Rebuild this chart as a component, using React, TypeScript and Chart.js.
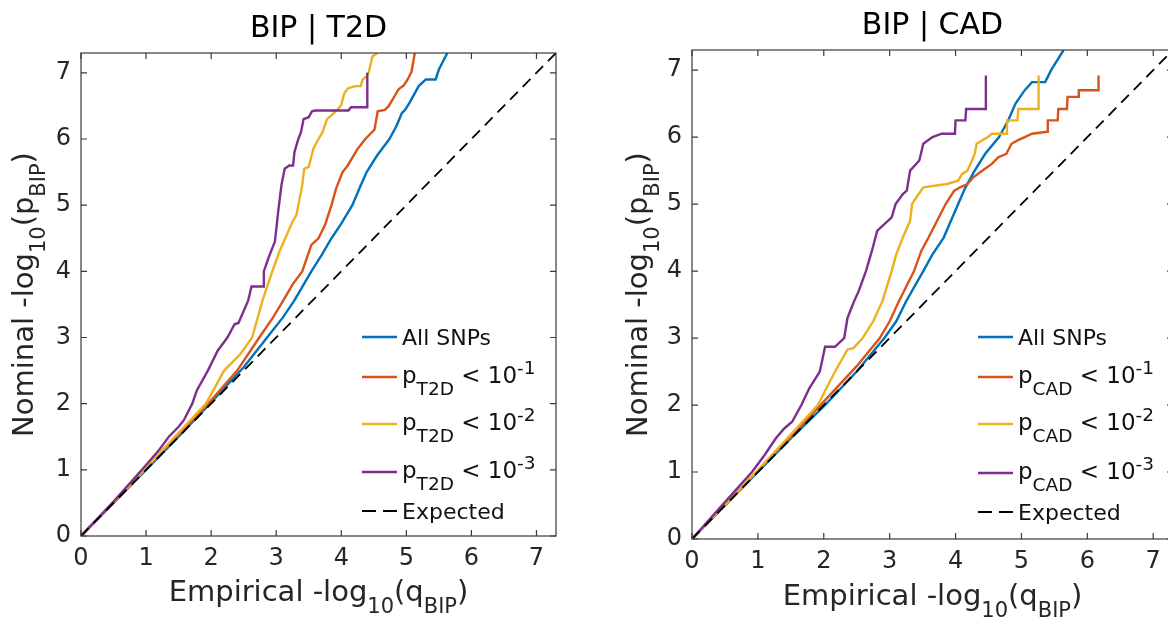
import React, { useEffect, useRef } from 'react';
import { Chart, registerables } from 'chart.js';

Chart.register(...registerables);

// ---------- data ----------
const AXIS_TICKS = [0, 1, 2, 3, 4, 5, 6, 7];
const AXIS_MAX = 7.3;
const SERIES_COLORS = ['#0072BD', '#D95319', '#EDB120', '#7E2F8E'];
const THRESHOLD_EXPONENTS = ['-1', '-2', '-3'];
const EXPECTED_X = [0, 7.3];
const EXPECTED_Y = [0, 7.3];

// BIP | T2D
const T2D_ALL_X = [0, 0.5, 1.0, 1.5, 2.0, 2.5, 2.86, 3.1, 3.28, 3.54, 3.7, 3.85, 4.0, 4.17, 4.3, 4.39, 4.55, 4.74, 4.85, 4.93, 4.98, 5.05, 5.19, 5.3, 5.45, 5.5, 5.63];
const T2D_ALL_Y = [0, 0.5, 1.0, 1.5, 2.02, 2.55, 3.0, 3.3, 3.56, 4.0, 4.25, 4.5, 4.72, 5.0, 5.3, 5.5, 5.75, 6.0, 6.2, 6.39, 6.44, 6.55, 6.8, 6.9, 6.9, 7.05, 7.3];
const T2D_P1_X = [0, 0.5, 1.0, 1.5, 2.0, 2.4, 2.74, 2.95, 3.11, 3.25, 3.4, 3.54, 3.65, 3.75, 3.85, 3.92, 4.02, 4.1, 4.25, 4.37, 4.51, 4.56, 4.67, 4.73, 4.82, 4.88, 4.96, 5.02, 5.08, 5.13];
const T2D_P1_Y = [0, 0.5, 1.02, 1.53, 2.05, 2.5, 3.0, 3.3, 3.56, 3.8, 4.0, 4.4, 4.5, 4.7, 5.0, 5.25, 5.5, 5.6, 5.85, 6.0, 6.14, 6.42, 6.44, 6.5, 6.65, 6.75, 6.81, 6.9, 7.02, 7.3];
const T2D_P2_X = [0, 0.5, 1.0, 1.5, 1.92, 2.2, 2.45, 2.63, 2.79, 2.94, 3.05, 3.14, 3.25, 3.31, 3.34, 3.4, 3.43, 3.5, 3.57, 3.65, 3.71, 3.78, 3.84, 3.95, 4.0, 4.05, 4.11, 4.22, 4.3, 4.33, 4.39, 4.42, 4.48, 4.56];
const T2D_P2_Y = [0, 0.51, 1.03, 1.56, 2.0, 2.5, 2.75, 3.0, 3.56, 4.0, 4.3, 4.5, 4.75, 4.85, 5.0, 5.3, 5.55, 5.58, 5.85, 6.0, 6.1, 6.3, 6.35, 6.45, 6.52, 6.7, 6.77, 6.8, 6.8, 6.9, 6.95, 7.0, 7.25, 7.3];
const T2D_P3_X = [0, 0.5, 0.98, 1.2, 1.35, 1.5, 1.58, 1.71, 1.78, 1.95, 2.1, 2.25, 2.36, 2.42, 2.5, 2.57, 2.62, 2.8, 2.81, 2.88, 2.94, 2.98, 3.03, 3.08, 3.13, 3.2, 3.26, 3.28, 3.34, 3.38, 3.42, 3.5, 3.55, 3.6, 4.11, 4.15, 4.4, 4.4];
const T2D_P3_Y = [0, 0.52, 1.05, 1.3, 1.5, 1.65, 1.75, 2.0, 2.2, 2.5, 2.8, 3.0, 3.2, 3.22, 3.4, 3.56, 3.77, 3.77, 4.0, 4.2, 4.35, 4.45, 4.9, 5.3, 5.55, 5.6, 5.6, 5.8, 6.0, 6.1, 6.3, 6.33, 6.42, 6.43, 6.43, 6.48, 6.48, 7.0];

// BIP | CAD
const CAD_ALL_X = [0, 0.5, 1.0, 1.5, 2.0, 2.5, 2.92, 3.1, 3.25, 3.51, 3.65, 3.82, 3.93, 4.04, 4.15, 4.29, 4.45, 4.66, 4.8, 4.91, 5.05, 5.16, 5.36, 5.45, 5.64];
const CAD_ALL_Y = [0, 0.5, 1.0, 1.5, 1.98, 2.5, 3.0, 3.25, 3.55, 4.0, 4.25, 4.5, 4.75, 5.0, 5.25, 5.5, 5.75, 6.0, 6.25, 6.5, 6.7, 6.82, 6.82, 7.0, 7.3];
const CAD_P1_X = [0, 0.5, 1.0, 1.5, 2.0, 2.5, 2.85, 3.0, 3.14, 3.37, 3.48, 3.59, 3.72, 3.85, 3.98, 4.07, 4.18, 4.27, 4.41, 4.55, 4.65, 4.77, 4.85, 4.94, 5.05, 5.16, 5.39, 5.4, 5.55, 5.56, 5.69, 5.7, 5.86, 5.87, 6.17, 6.17];
const CAD_P1_Y = [0, 0.5, 1.02, 1.52, 2.05, 2.58, 3.0, 3.25, 3.55, 4.0, 4.3, 4.5, 4.75, 5.0, 5.2, 5.25, 5.3, 5.4, 5.5, 5.6, 5.7, 5.75, 5.9, 5.95, 6.0, 6.05, 6.08, 6.25, 6.25, 6.42, 6.42, 6.6, 6.6, 6.7, 6.7, 6.92];
const CAD_P2_X = [0, 0.5, 1.0, 1.5, 1.91, 2.17, 2.36, 2.45, 2.59, 2.75, 2.89, 3.03, 3.1, 3.2, 3.31, 3.34, 3.37, 3.51, 3.87, 4.04, 4.1, 4.18, 4.25, 4.29, 4.32, 4.49, 4.55, 4.77, 4.78, 4.94, 4.95, 5.26, 5.26];
const CAD_P2_Y = [0, 0.51, 1.03, 1.56, 2.0, 2.5, 2.83, 2.85, 3.0, 3.25, 3.55, 4.0, 4.25, 4.5, 4.75, 5.0, 5.05, 5.25, 5.3, 5.35, 5.45, 5.5, 5.65, 5.75, 5.9, 6.0, 6.05, 6.05, 6.25, 6.25, 6.42, 6.42, 6.92];
const CAD_P3_X = [0, 0.5, 0.91, 1.1, 1.27, 1.4, 1.52, 1.66, 1.78, 1.94, 2.02, 2.17, 2.31, 2.36, 2.46, 2.53, 2.64, 2.73, 2.81, 2.92, 3.03, 3.09, 3.2, 3.26, 3.31, 3.45, 3.51, 3.65, 3.79, 3.99, 4.0, 4.15, 4.16, 4.46, 4.46];
const CAD_P3_Y = [0, 0.55, 1.0, 1.25, 1.5, 1.65, 1.75, 2.0, 2.25, 2.5, 2.87, 2.87, 3.0, 3.3, 3.55, 3.7, 4.0, 4.3, 4.6, 4.7, 4.8, 5.0, 5.15, 5.2, 5.5, 5.65, 5.9, 6.0, 6.05, 6.05, 6.25, 6.25, 6.42, 6.42, 6.92];

// ---------- drawing helpers ----------
const FONT = '"DejaVu Sans", sans-serif';
const TEXT_COLOR = '#262626';

type Seg = { t: string; size: number; dy: number };

function drawRich(ctx: CanvasRenderingContext2D, segs: Seg[], x: number, y: number, align: 'left' | 'center') {
  const widths = segs.map((s) => {
    ctx.font = `${s.size}px ${FONT}`;
    return ctx.measureText(s.t).width;
  });
  const total = widths.reduce((a, b) => a + b, 0);
  let cx = align === 'center' ? x - total / 2 : x;
  ctx.textAlign = 'left';
  ctx.textBaseline = 'alphabetic';
  segs.forEach((s, i) => {
    ctx.font = `${s.size}px ${FONT}`;
    ctx.fillText(s.t, cx, y + s.dy);
    cx += widths[i];
  });
}

const panelPlugin = {
  id: 'panelDecor',
  afterDraw(chart: any) {
    const cfg = chart.options.plugins.panelDecor;
    if (!cfg) return;
    const ctx: CanvasRenderingContext2D = chart.ctx;
    const { left, right, top, bottom } = chart.chartArea;
    const xs = chart.scales.x;
    const ys = chart.scales.y;
    ctx.save();
    // frame
    ctx.strokeStyle = '#3a3a3a';
    ctx.lineWidth = 1.2;
    ctx.strokeRect(left, top, right - left, bottom - top);
    // inward ticks
    const tl = 6;
    ctx.beginPath();
    AXIS_TICKS.forEach((v) => {
      const px = xs.getPixelForValue(v);
      ctx.moveTo(px, bottom);
      ctx.lineTo(px, bottom - tl);
      ctx.moveTo(px, top);
      ctx.lineTo(px, top + tl);
      const py = ys.getPixelForValue(v);
      ctx.moveTo(left, py);
      ctx.lineTo(left + tl, py);
      ctx.moveTo(right, py);
      ctx.lineTo(right - tl, py);
    });
    ctx.stroke();

    const cxm = (left + right) / 2;
    const cym = (top + bottom) / 2;
    // title
    ctx.fillStyle = '#000';
    drawRich(ctx, [{ t: cfg.title, size: 30, dy: 0 }], cxm, cfg.titleBaseline, 'center');
    // x label
    ctx.fillStyle = TEXT_COLOR;
    drawRich(
      ctx,
      [
        { t: 'Empirical -log', size: 29, dy: 0 },
        { t: '10', size: 21, dy: 12 },
        { t: '(q', size: 29, dy: 0 },
        { t: 'BIP', size: 21, dy: 12 },
        { t: ')', size: 29, dy: 0 },
      ],
      cxm,
      cfg.xLabelBaseline,
      'center'
    );
    // y label
    ctx.save();
    ctx.translate(cfg.yLabelX, cym);
    ctx.rotate(-Math.PI / 2);
    drawRich(
      ctx,
      [
        { t: 'Nominal -log', size: 29, dy: 0 },
        { t: '10', size: 21, dy: 12 },
        { t: '(p', size: 29, dy: 0 },
        { t: 'BIP', size: 21, dy: 12 },
        { t: ')', size: 29, dy: 0 },
      ],
      0,
      0,
      'center'
    );
    ctx.restore();

    // legend
    const lx = cfg.legendX;
    const rows: number[] = cfg.legendRows;
    const lineLen = 35;
    for (let i = 0; i < 5; i++) {
      const y = rows[i];
      ctx.beginPath();
      if (i === 4) {
        ctx.strokeStyle = '#000';
        ctx.setLineDash([14, 7]);
        ctx.lineWidth = 1.8;
      } else {
        ctx.strokeStyle = SERIES_COLORS[i];
        ctx.setLineDash([]);
        ctx.lineWidth = 2.4;
      }
      ctx.moveTo(lx, y);
      ctx.lineTo(lx + lineLen, y);
      ctx.stroke();
      ctx.setLineDash([]);
      ctx.fillStyle = '#111';
      const tx = lx + lineLen + 5;
      if (i === 0) {
        drawRich(ctx, [{ t: 'All SNPs', size: 22, dy: 0 }], tx, y + 8, 'left');
      } else if (i === 4) {
        drawRich(ctx, [{ t: 'Expected', size: 22, dy: 0 }], tx, y + 8, 'left');
      } else {
        drawRich(
          ctx,
          [
            { t: 'p', size: 23, dy: 0 },
            { t: cfg.trait, size: 18.5, dy: 12 },
            { t: ' < 10', size: 23, dy: 0 },
            { t: THRESHOLD_EXPONENTS[i - 1], size: 18.5, dy: -9 },
          ],
          tx,
          y + 6,
          'left'
        );
      }
    }
    ctx.restore();
  },
};

type PanelProps = {
  offsetX: number;
  width: number;
  height: number;
  plot: { l: number; t: number; r: number; b: number };
  title: string;
  trait: string;
  xs: number[][];
  ys: number[][];
  titleBaseline: number;
  xLabelBaseline: number;
  yLabelX: number;
  legendX: number;
  legendRows: number[];
};

const SERIES_NAMES = ['All SNPs', 'p < 1e-1', 'p < 1e-2', 'p < 1e-3'];

function Panel(props: PanelProps) {
  const ref = useRef<HTMLCanvasElement | null>(null);
  useEffect(() => {
    if (!ref.current) return;
    const { plot, width, height } = props;
    const datasets: any[] = props.xs.map((xArr, i) => ({
      label: SERIES_NAMES[i],
      data: xArr.map((x, j) => ({ x, y: props.ys[i][j] })),
      borderColor: SERIES_COLORS[i],
      backgroundColor: SERIES_COLORS[i],
      borderWidth: 2.4,
      showLine: true,
      pointRadius: 0,
      tension: 0,
      order: 5 - i,
    }));
    datasets.push({
      label: 'Expected',
      data: EXPECTED_X.map((x, j) => ({ x, y: EXPECTED_Y[j] })),
      borderColor: '#000',
      borderWidth: 1.8,
      borderDash: [11, 7],
      showLine: true,
      pointRadius: 0,
      order: 0,
    });
    const tickFont = { family: '"DejaVu Sans", sans-serif', size: 24 };
    const chart = new Chart(ref.current, {
      type: 'scatter',
      data: { datasets },
      options: {
        animation: false,
        responsive: false,
        devicePixelRatio: 1,
        layout: { padding: { left: 0, top: plot.t, right: width - plot.r, bottom: 0 } },
        plugins: {
          legend: { display: false },
          tooltip: { enabled: false },
          title: { display: false },
          panelDecor: {
            title: props.title,
            trait: props.trait,
            titleBaseline: props.titleBaseline,
            xLabelBaseline: props.xLabelBaseline,
            yLabelX: props.yLabelX,
            legendX: props.legendX,
            legendRows: props.legendRows,
          },
        } as any,
        scales: {
          x: {
            type: 'linear',
            min: 0,
            max: AXIS_MAX,
            afterBuildTicks: (s: any) => {
              s.ticks = AXIS_TICKS.map((v) => ({ value: v }));
            },
            afterFit: (s: any) => {
              s.height = height - plot.b;
            },
            ticks: { font: tickFont, color: TEXT_COLOR, padding: 8, maxRotation: 0, autoSkip: false },
            grid: { display: false, drawTicks: false },
            border: { display: false },
          },
          y: {
            type: 'linear',
            min: 0,
            max: AXIS_MAX,
            afterBuildTicks: (s: any) => {
              s.ticks = AXIS_TICKS.map((v) => ({ value: v }));
            },
            afterFit: (s: any) => {
              s.width = plot.l;
            },
            ticks: { font: tickFont, color: TEXT_COLOR, padding: 10, autoSkip: false },
            grid: { display: false, drawTicks: false },
            border: { display: false },
          },
        },
      },
      plugins: [panelPlugin],
    } as any);
    return () => chart.destroy();
  }, []);
  return (
    <canvas
      ref={ref}
      width={props.width}
      height={props.height}
      style={{ position: 'absolute', left: props.offsetX, top: 0, width: props.width, height: props.height }}
    />
  );
}

export default function App() {
  return (
    <div
      style={{
        position: 'absolute',
        left: 0,
        top: 0,
        width: 1168,
        height: 619,
        overflow: 'hidden',
        background: '#fff',
      }}
    >
      <Panel
        offsetX={0}
        width={600}
        height={619}
        plot={{ l: 81, t: 53, r: 556, b: 536 }}
        title="BIP | T2D"
        trait="T2D"
        xs={[T2D_ALL_X, T2D_P1_X, T2D_P2_X, T2D_P3_X]}
        ys={[T2D_ALL_Y, T2D_P1_Y, T2D_P2_Y, T2D_P3_Y]}
        titleBaseline={37}
        xLabelBaseline={601}
        yLabelX={33}
        legendX={362}
        legendRows={[337, 377, 424, 472, 511]}
      />
      <Panel
        offsetX={600}
        width={600}
        height={619}
        plot={{ l: 92, t: 50, r: 573, b: 539 }}
        title="BIP | CAD"
        trait="CAD"
        xs={[CAD_ALL_X, CAD_P1_X, CAD_P2_X, CAD_P3_X]}
        ys={[CAD_ALL_Y, CAD_P1_Y, CAD_P2_Y, CAD_P3_Y]}
        titleBaseline={34}
        xLabelBaseline={605}
        yLabelX={47}
        legendX={378}
        legendRows={[337, 377, 424, 473, 512]}
      />
    </div>
  );
}
